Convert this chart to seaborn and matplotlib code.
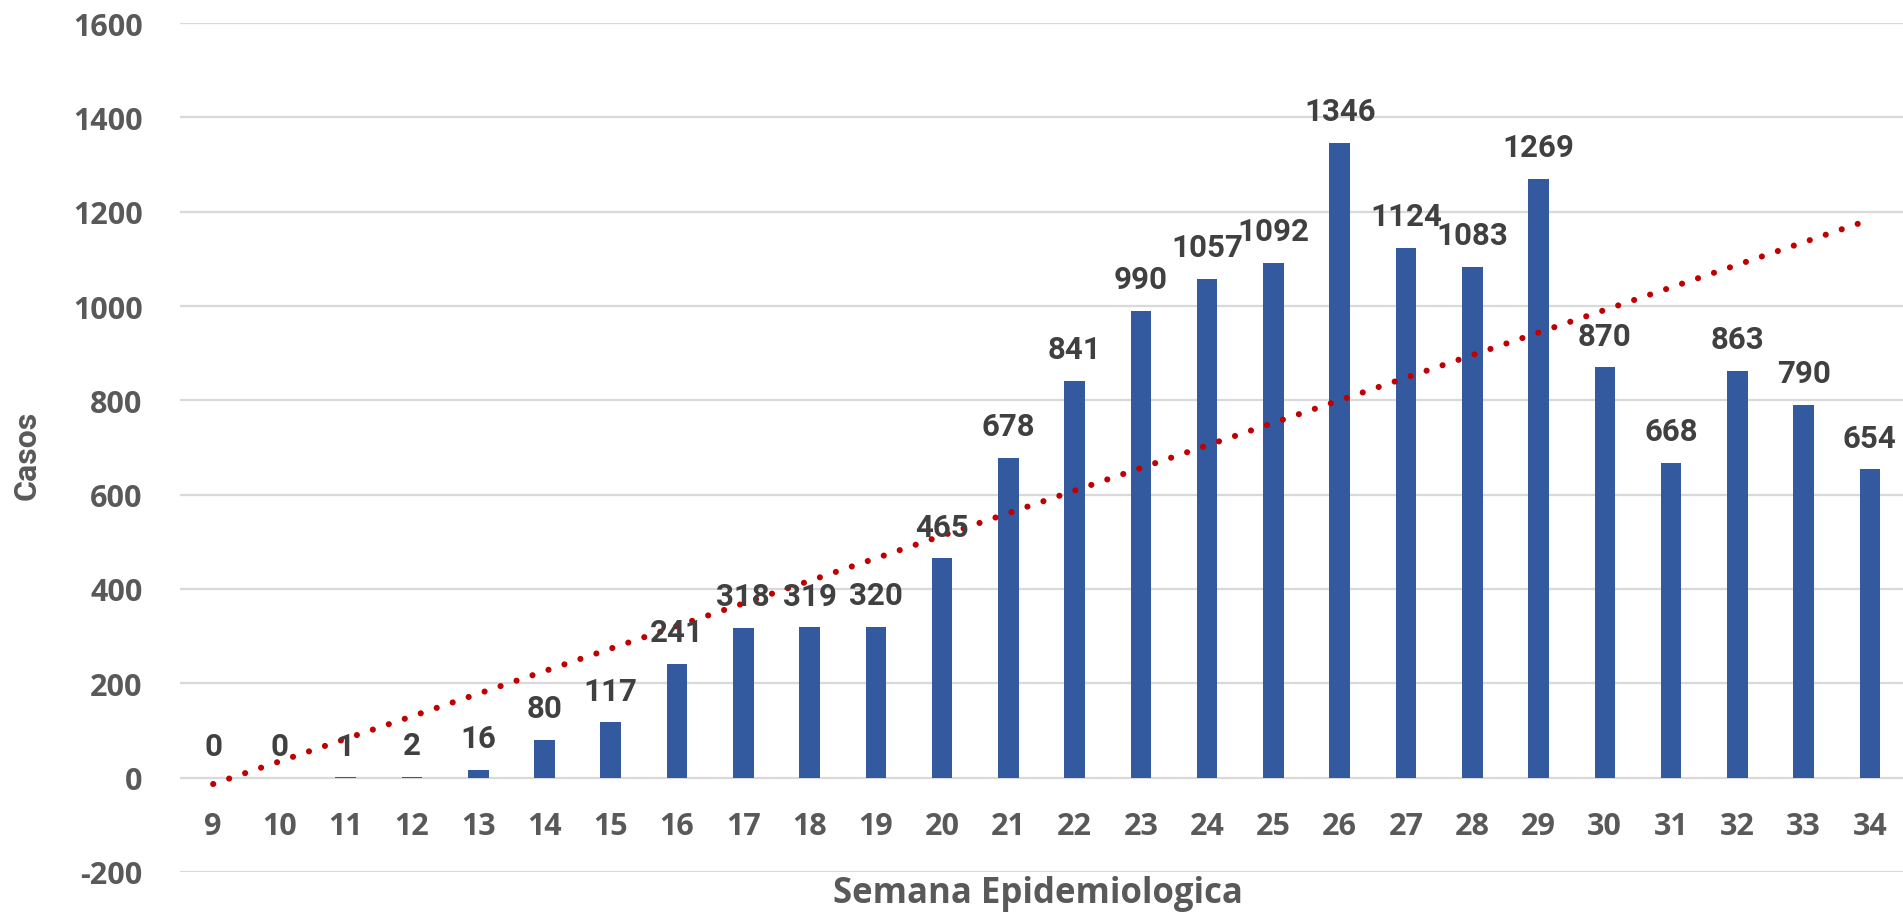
# Casos por semana epidemiologica, barras + linea de tendencia lineal
import numpy as np
import pandas as pd
import matplotlib
matplotlib.use('Agg')
import matplotlib.pyplot as plt
import seaborn as sns

# Datos
semanas = [9, 10, 11, 12, 13, 14, 15, 16, 17, 18, 19, 20, 21,
           22, 23, 24, 25, 26, 27, 28, 29, 30, 31, 32, 33, 34]
casos = [0, 0, 1, 2, 16, 80, 117, 241, 318, 319, 320, 465, 678,
         841, 990, 1057, 1092, 1346, 1124, 1083, 1269, 870, 668, 863, 790, 654]
y_ticks = [-200, 0, 200, 400, 600, 800, 1000, 1200, 1400, 1600]

df = pd.DataFrame({'semana': [str(s) for s in semanas], 'casos': casos})

sns.set_style('white')
plt.rcParams['font.family'] = ['Open Sans', 'DejaVu Sans']
plt.rcParams['axes.unicode_minus'] = False

fig = plt.figure(figsize=(19.03, 9.2), dpi=100)
ax = fig.add_axes([0.0946, 0.0511, 0.9054, 0.9228])

sns.barplot(data=df, x='semana', y='casos', color='#335A9F', saturation=1,
            width=0.31, linewidth=0, ax=ax, zorder=2)

# linea de tendencia (regresion lineal sobre los datos)
pos = np.arange(len(casos))
m, b = np.polyfit(pos, casos, 1)
ax.plot(pos, m * pos + b, color='#C00000', linewidth=4.4,
        linestyle=(0, (0.01, 2.75)), dash_capstyle='round', zorder=3)

# etiquetas de datos
ax.bar_label(ax.containers[0], labels=[str(v) for v in casos], padding=12,
             fontsize=22.5, fontweight='bold', color='#404040',
             family=['Roboto', 'DejaVu Sans'], zorder=4)

ax.set_xlim(-0.5, len(casos) - 0.5)
ax.set_ylim(-200, 1600)
ax.set_yticks(y_ticks)
ax.yaxis.grid(True, color='#D9D9D9', linewidth=1.6, zorder=0)
ax.set_axisbelow(True)

for s in ['top', 'right', 'left']:
    ax.spines[s].set_visible(False)
ax.spines['bottom'].set_position(('data', 0))
ax.spines['bottom'].set_visible(False)

ax.tick_params(axis='x', length=0, pad=24, labelsize=22, labelcolor='#595959')
ax.tick_params(axis='y', length=0, pad=27, labelsize=22, labelcolor='#595959')
for lab in ax.get_xticklabels() + ax.get_yticklabels():
    lab.set_fontweight('bold')

ax.set_xlabel('')
ax.set_ylabel('')
fig.text(0.5455, 0.009, 'Semana Epidemiologica', ha='center', va='bottom',
         fontsize=25, fontweight='bold', color='#595959')
fig.text(0.014, 0.505, 'Casos', ha='center', va='center', rotation=90,
         fontsize=23, fontweight='bold', color='#595959',
         family=['Roboto', 'DejaVu Sans'])

fig.savefig('out.png', dpi=100)
